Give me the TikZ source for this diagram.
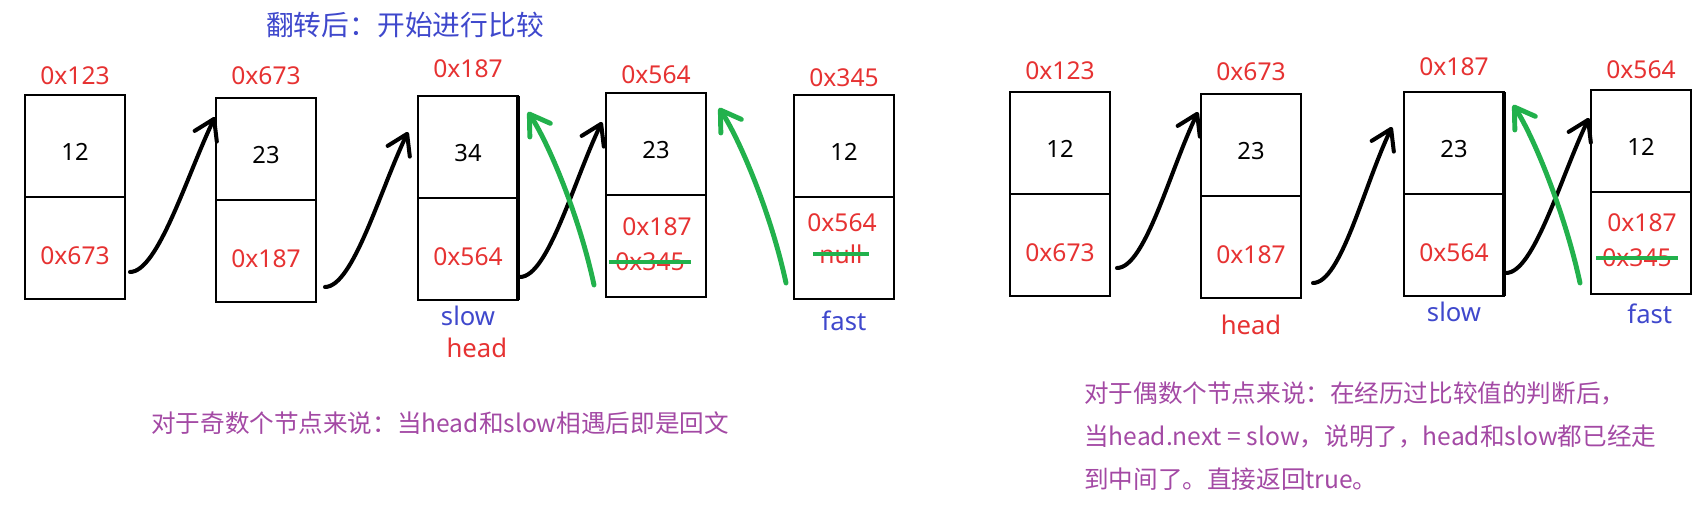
\documentclass[tikz,border=0pt]{standalone}
\usepackage{fontspec}
\setmainfont{Noto Sans}
\newfontfamily\cjk{Noto Sans CJK SC}
\usetikzlibrary{arrows.meta,positioning}
\definecolor{addrred}{RGB}{230,50,50}
\definecolor{ptrblue}{RGB}{63,72,204}
\definecolor{markgreen}{RGB}{34,177,76}
\definecolor{notepurple}{RGB}{163,73,164}

\begin{document}
\begin{tikzpicture}[
    x=0.02cm, y=-0.02cm,
    every node/.style={font=\fontsize{14}{17}\selectfont},
    cell/.style={draw, line width=1.4pt, minimum width=2cm, minimum height=2.04cm, inner sep=0pt, outer sep=0pt, text height=17pt, text depth=0pt, font=\fontsize{13.5}{16}\selectfont},
    nextcell/.style={cell, text=addrred, text height=19pt, font=\fontsize{14}{17}\selectfont},
    addr/.style={text=addrred},
    ptr/.style={text=ptrblue, font=\fontsize{14.6}{17}\selectfont},
    headptr/.style={ptr, text=addrred},
    note/.style={text=notepurple, align=left, anchor=west, font=\cjk\fontsize{14}{24.5}\selectfont},
    link/.style={-{Straight Barb[length=11pt,width=14pt,round]}, line width=2.3pt, line cap=round},
    back/.style={link, draw=markgreen, line width=2.8pt},
    strike/.style={draw=markgreen, line width=2.8pt}
]
\useasboundingbox (0,0) rectangle (1706,522);
\node[text=ptrblue, font=\cjk\fontsize{15.8}{19}\selectfont] (title) at (405,25) {翻转后：开始进行比较};

% odd number of nodes
\node[cell] (b1v) at (75,146) {12};
\node[nextcell, below=0pt of b1v] (b1n) {0x673};
\node[addr, above=2.5pt of b1v] (b1a) {0x123};
\node[cell] (b2v) at (266,149) {23};
\node[nextcell, below=0pt of b2v] (b2n) {0x187};
\node[addr, above=4pt of b2v] (b2a) {0x673};
\node[cell] (b3v) at (468,147) {34};
\node[nextcell, below=0pt of b3v] (b3n) {0x564};
\node[addr, above=7pt of b3v] (b3a) {0x187};
\node[cell] (b4v) at (656,144) {23};
\node[nextcell, below=0pt of b4v] (b4n) {};
\node[addr, above=1.7pt of b4v] (b4a) {0x564};
\node[addr] (b4new) at (657,227) {0x187};
\node[addr] (b4old) at (650,262) {0x345};
\node[cell] (b5v) at (844,146) {12};
\node[nextcell, below=0pt of b5v] (b5n) {};
\node[addr, above=1pt of b5v] (b5a) {0x345};
\node[addr] (b5new) at (842,223) {0x564};
\node[addr] (b5old) at (841,254) {null};
\draw[line width=2.5pt] (b3v.north east) -- (b3n.south east);
\node[ptr, below=0pt of b3n] (slowL) {slow};
\node[headptr, below=0pt of slowL, xshift=5pt] (headL) {head};
\node[ptr, below=3pt of b5n] (fastL) {fast};
\draw[link] ([shift={(5,24)}]b1n.east) .. controls +(28,0) and +(-28,58) .. ([shift={(-1,19)}]b2v.north west);
\draw[link] ([shift={(9,36)}]b2n.east) .. controls +(28,0) and +(-28,58) .. ([shift={(-10,36)}]b3v.north west);
\draw[link] ([shift={(2,28)}]b3n.east) .. controls +(28,0) and +(-28,58) .. ([shift={(-4,29)}]b4v.north west);
\draw[back] ([shift={(-12,39)}]b4n.west) .. controls +(-15,-70) and +(20,30) .. ([shift={(10,16)}]b3v.north east);
\draw[back] ([shift={(-8,35)}]b5n.west) .. controls +(-15,-70) and +(20,30) .. ([shift={(13,15)}]b4v.north east);
\draw[strike] (b4old.west) -- (b4old.east);
\draw[strike] (b5old.west) -- (b5old.east);
\node[note] (oddnote) at (145,423) {对于奇数个节点来说：当head和slow相遇后即是回文};

% even number of nodes
\node[cell] (r1v) at (1060,143) {12};
\node[nextcell, below=0pt of r1v] (r1n) {0x673};
\node[addr, above=3.4pt of r1v] (r1a) {0x123};
\node[cell] (r2v) at (1251,145) {23};
\node[nextcell, below=0pt of r2v] (r2n) {0x187};
\node[addr, above=4pt of r2v] (r2a) {0x673};
\node[cell] (r3v) at (1454,143) {23};
\node[nextcell, below=0pt of r3v] (r3n) {0x564};
\node[addr, above=5.7pt of r3v] (r3a) {0x187};
\node[cell] (r4v) at (1641,141) {12};
\node[nextcell, below=0pt of r4v] (r4n) {};
\node[addr, above=2.8pt of r4v] (r4a) {0x564};
\node[addr] (r4new) at (1642,223) {0x187};
\node[addr] (r4old) at (1637,258) {0x345};
\draw[line width=2.5pt] (r3v.north east) -- (r3n.south east);
\node[headptr, below=6pt of r2n] (headR) {head};
\node[ptr, below=0pt of r3n] (slowR) {slow};
\node[ptr, below=2pt of r4n, xshift=5pt] (fastR) {fast};
\draw[link] ([shift={(7,23)}]r1n.east) .. controls +(28,0) and +(-28,58) .. ([shift={(-3,18)}]r2v.north west);
\draw[link] ([shift={(12,36)}]r2n.east) .. controls +(28,0) and +(-28,58) .. ([shift={(-12,35)}]r3v.north west);
\draw[link] ([shift={(2,28)}]r3n.east) .. controls +(28,0) and +(-28,58) .. ([shift={(-2,28)}]r4v.north west);
\draw[back] ([shift={(-11,40)}]r4n.west) .. controls +(-15,-70) and +(20,30) .. ([shift={(9,13)}]r3v.north east);
\draw[strike] (r4old.west) -- (r4old.east);
\node[note] (evennote) at (1078,436) {对于偶数个节点来说：在经历过比较值的判断后，\\当head.next = slow，说明了，head和slow都已经走\\到中间了。直接返回true。};
\end{tikzpicture}
\end{document}
